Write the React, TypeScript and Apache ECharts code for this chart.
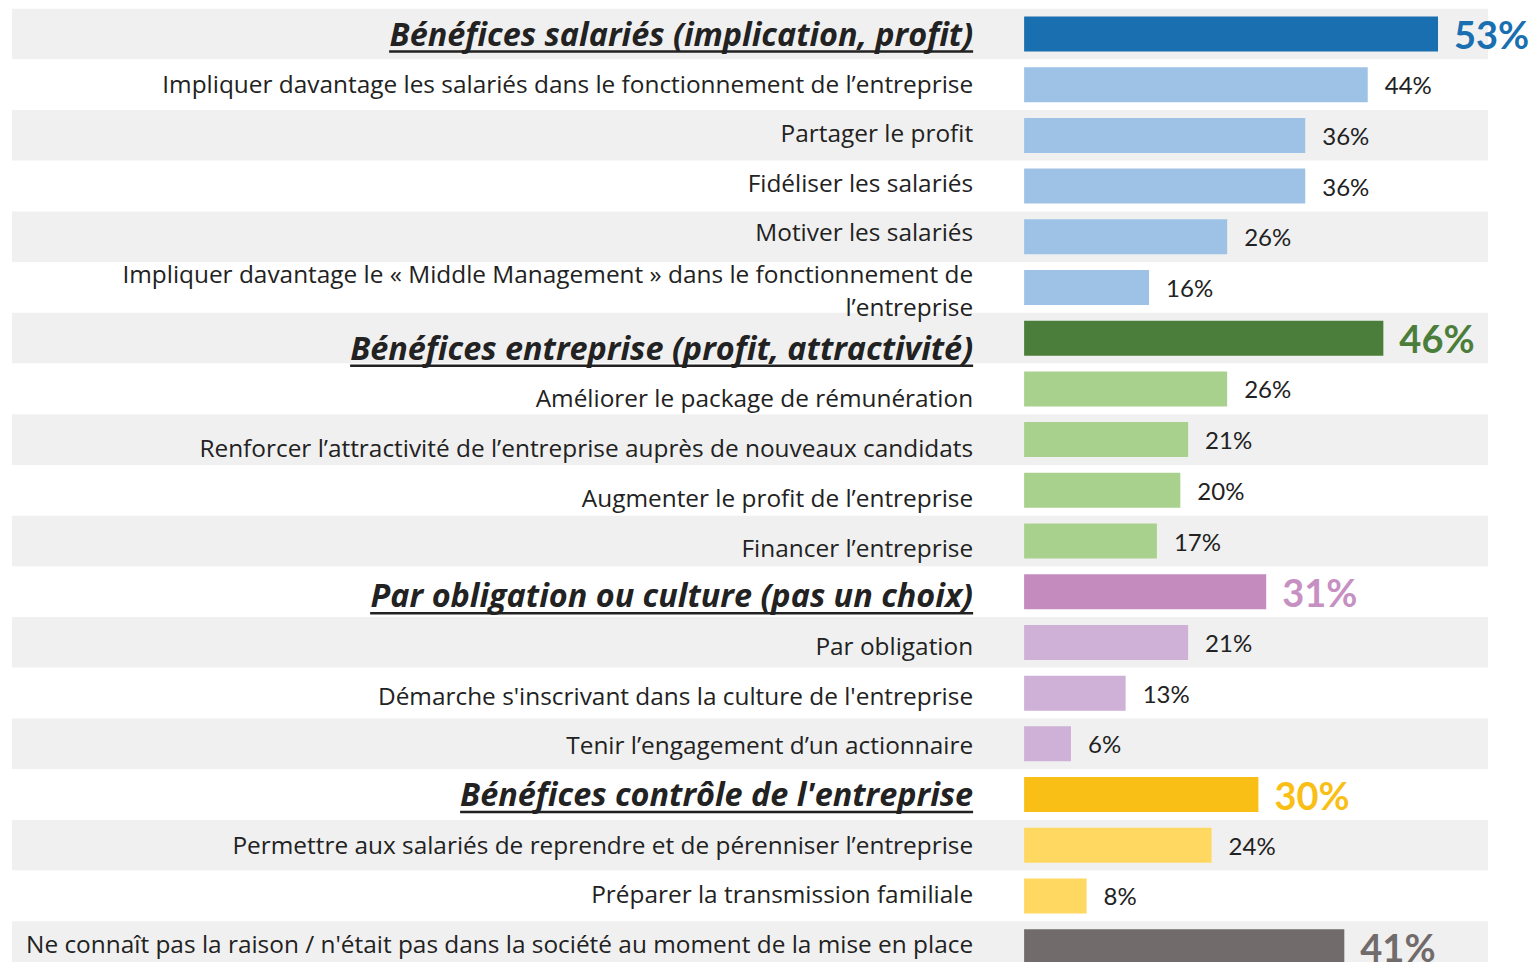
import React, { useEffect, useRef } from 'react';
import * as echarts from 'echarts';

// ---- data ----
const categories: string[] = [
  'Bénéfices salariés (implication, profit)',
  'Impliquer davantage les salariés dans le fonctionnement de l’entreprise',
  'Partager le profit',
  'Fidéliser les salariés',
  'Motiver les salariés',
  'Impliquer davantage le « Middle Management » dans le fonctionnement de\nl’entreprise',
  'Bénéfices entreprise (profit, attractivité)',
  'Améliorer le package de rémunération',
  'Renforcer l’attractivité de l’entreprise auprès de nouveaux candidats',
  'Augmenter le profit de l’entreprise',
  'Financer l’entreprise',
  'Par obligation ou culture (pas un choix)',
  'Par obligation',
  "Démarche s'inscrivant dans la culture de l'entreprise",
  'Tenir l’engagement d’un actionnaire',
  "Bénéfices contrôle de l'entreprise",
  'Permettre aux salariés de reprendre et de pérenniser l’entreprise',
  'Préparer la transmission familiale',
  "Ne connaît pas la raison / n'était pas dans la société au moment de la mise en place",
];

const values: number[] = [53, 44, 36, 36, 26, 16, 46, 26, 21, 20, 17, 31, 21, 13, 6, 30, 24, 8, 41];

// 'H' = group heading, 'I' = item, 'T' = total-like row (no heading style)
const rowKinds: string[] = ['H', 'I', 'I', 'I', 'I', 'I', 'H', 'I', 'I', 'I', 'I', 'H', 'I', 'I', 'I', 'H', 'I', 'I', 'T'];
const rowGroups: number[] = [0, 0, 0, 0, 0, 0, 1, 1, 1, 1, 1, 2, 2, 2, 2, 3, 3, 3, 4];

// ---- styles ----
const groupDark = ['#1a6fb0', '#4b7e3a', '#c48bbe', '#f9bf17', '#716b6b'];
const groupLight = ['#9dc2e5', '#a9d18e', '#cfb1d8', '#ffd862', '#716b6b'];
const groupValueColor = ['#1a6fb0', '#4b7e3a', '#c790c2', '#f9bf17', '#716b6b'];
// vertical nudge of each category label (px, positive = down), label layout style
const labelNudge: number[] = [0, -1, -3, -4, -5, 2, 10, 9, 8, 7, 6, 4, 3, 2, 1, 0, -1, -2, -3];

const LABEL_FONT = '"Open Sans", sans-serif';
const VALUE_FONT = 'Lato, sans-serif';
const TEXT = '#222222';
const HEAD_SIZE = 32.4;
const ITEM_SIZE = 24.4;

const GRID_LEFT = 12;
const GRID_RIGHT = 42;
const X_MIN = -129.6;
const X_MAX = 59.4;

function measure(text: string, font: string): number {
  const ctx = document.createElement('canvas').getContext('2d');
  if (!ctx) return text.length * 14;
  ctx.font = font;
  return ctx.measureText(text).width;
}

export default function App() {
  const ref = useRef<HTMLDivElement>(null);
  useEffect(() => {
    if (!ref.current) return;
    const chart = echarts.init(ref.current, null, { renderer: 'svg' });

    const rich: any = {
      h: { fontFamily: LABEL_FONT, fontStyle: 'italic', fontWeight: 'bold', fontSize: HEAD_SIZE, color: TEXT, lineHeight: 35, align: 'right' },
      n: { fontFamily: LABEL_FONT, fontSize: ITEM_SIZE, color: TEXT, lineHeight: 33, align: 'right' },
    };
    categories.forEach((c, i) => {
      if (rowKinds[i] === 'H') {
        const w = measure(c, `italic bold ${HEAD_SIZE}px "Open Sans"`);
        rich['u' + i] = { width: Math.round(w), height: 2.5, lineHeight: 3, backgroundColor: TEXT, align: 'right' };
      }
      const s = Math.abs(labelNudge[i]) * 2;
      if (s > 0) rich['s' + i] = { height: s, lineHeight: s, width: 1, align: 'right' };
    });

    const data = values.map((v, i) => {
      const g = rowGroups[i];
      const strong = rowKinds[i] !== 'I';
      return {
        value: v,
        itemStyle: { color: strong ? groupDark[g] : groupLight[g] },
        label: strong
          ? { fontSize: 38, fontWeight: 'bold', color: groupValueColor[g], distance: 16 }
          : { fontSize: 24, fontWeight: 'normal', color: TEXT, distance: 17 },
      };
    });

    const plotWidth = 1530 - GRID_LEFT - GRID_RIGHT;
    const zeroOffset = (plotWidth * (0 - X_MIN)) / (X_MAX - X_MIN);

    chart.setOption({
      animation: false,
      grid: { left: GRID_LEFT, right: GRID_RIGHT, top: 8.65, bottom: 8, outerBoundsMode: 'none', containLabel: false },
      xAxis: {
        type: 'value',
        min: X_MIN,
        max: X_MAX,
        show: false,
      },
      yAxis: {
        type: 'category',
        inverse: true,
        data: categories,
        offset: -zeroOffset,
        axisLine: { show: false, onZero: false },
        axisTick: { show: false },
        splitArea: { show: true, areaStyle: { color: ['#f0f0f0', '#ffffff'] } },
        axisLabel: {
          interval: 0,
          margin: 51,
          align: 'right',
          rich,
          formatter: (value: string, index: number) => {
            let body: string;
            if (rowKinds[index] === 'H') body = `{h|${value}}\n{u${index}|}`;
            else
              body = value
                .split('\n')
                .map((l) => `{n|${l}}`)
                .join('\n');
            const n = labelNudge[index];
            if (n > 0) return `{s${index}|}\n${body}`;
            if (n < 0) return `${body}\n{s${index}|}`;
            return body;
          },
        },
      },
      series: [
        {
          type: 'bar',
          barWidth: 35,
          data,
          label: {
            show: true,
            position: 'right',
            formatter: '{c}%',
            fontFamily: VALUE_FONT,
          },
        },
      ],
    });
    return () => chart.dispose();
  }, []);
  return <div ref={ref} style={{ position: 'absolute', left: 0, top: 0, width: 1530, height: 980 }} />;
}
